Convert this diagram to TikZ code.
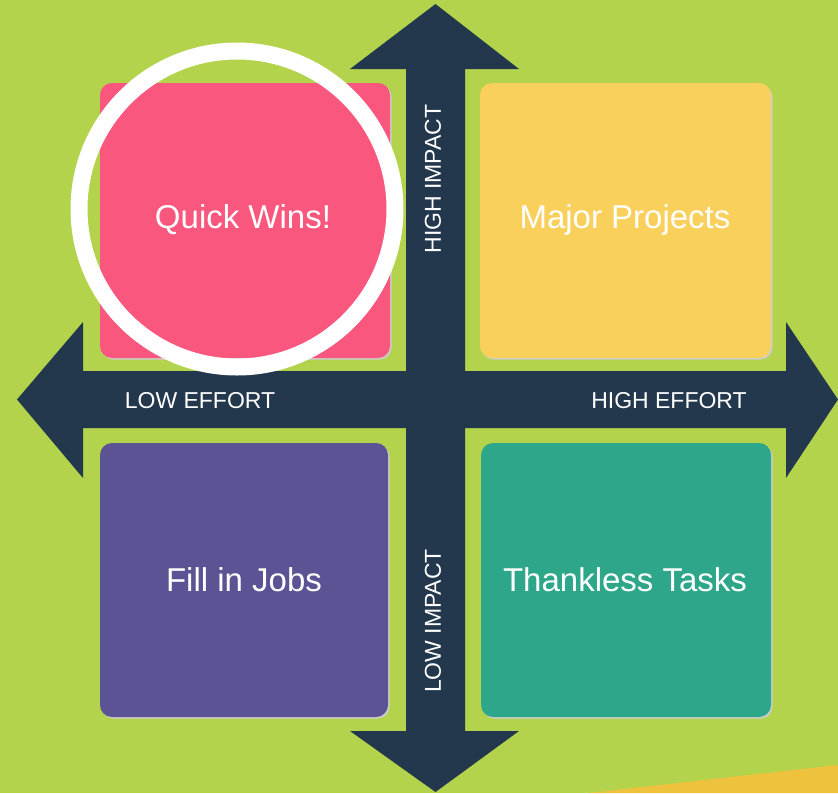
\documentclass[tikz,border=0pt]{standalone}
\usepackage{fontspec}
\setmainfont{Liberation Sans}
\usetikzlibrary{positioning,calc}
\definecolor{bggreen}{RGB}{178,211,75}
\definecolor{navy}{RGB}{35,56,77}
\definecolor{qpink}{RGB}{249,87,125}
\definecolor{qyellow}{RGB}{248,208,91}
\definecolor{qpurple}{RGB}{91,83,147}
\definecolor{qteal}{RGB}{46,166,138}
\definecolor{band}{RGB}{238,194,61}
\definecolor{shade}{RGB}{205,205,205}

\begin{document}
\begin{tikzpicture}[x=1pt,y=-1pt,quad/.style={rectangle,rounded corners=12pt,text=white,font=\fontsize{33}{38}\selectfont,preaction={fill=shade,transform canvas={shift={(1.5,1.5)}}}},qlabel/.style={text=white,font=\fontsize{33}{38}\selectfont},axis/.style={text=white,font=\fontsize{23}{27}\selectfont}]
\useasboundingbox (0,0) rectangle (838,793);
\fill[bggreen] (0,0) rectangle (838,793);
\fill[band] (588,793) -- (838,765) -- (838,793) -- cycle;
% the cross of four arrows
\fill[navy] (435.5,4) -- (519,69) -- (465,69) -- (465,371) -- (786,371) -- (786,322) -- (838,399.5)
  -- (786,478) -- (786,428) -- (465,428) -- (465,731) -- (519,731) -- (435.5,792) -- (350,731)
  -- (406,731) -- (406,428) -- (83,428) -- (83,478) -- (17,399.5) -- (83,322) -- (83,371)
  -- (406,371) -- (406,69) -- (350,69) -- cycle;
\node[quad,fill=qpink,minimum width=290,minimum height=275] (qw) at (245,220.5) {};
\node[quad,fill=qyellow,minimum width=291,minimum height=275] (mp) at (625.5,220.5) {};
\node[quad,fill=qpurple,minimum width=288,minimum height=274] (fj) at (244,580) {};
\node[quad,fill=qteal,minimum width=290,minimum height=274] (tt) at (626,580) {};
\node[qlabel] (qwl) at (243,220) {Quick Wins!};
\node[qlabel] (mpl) at (625,220) {Major Projects};
\node[qlabel] (fjl) at (244,580) {Fill in Jobs};
\node[qlabel] (ttl) at (625,580) {Thankless Tasks};
% axis labels
\node[axis,rotate=90] (hi) at (433,179) {HIGH IMPACT};
\node[axis,rotate=90] (li) at (433,621) {LOW IMPACT};
\node[axis] (le) at (200,401) {LOW EFFORT};
\node[axis] (he) at (669,401) {HIGH EFFORT};
% highlight ring
\draw[white,line width=17pt] (237,209) circle (158);
\end{tikzpicture}
\end{document}
